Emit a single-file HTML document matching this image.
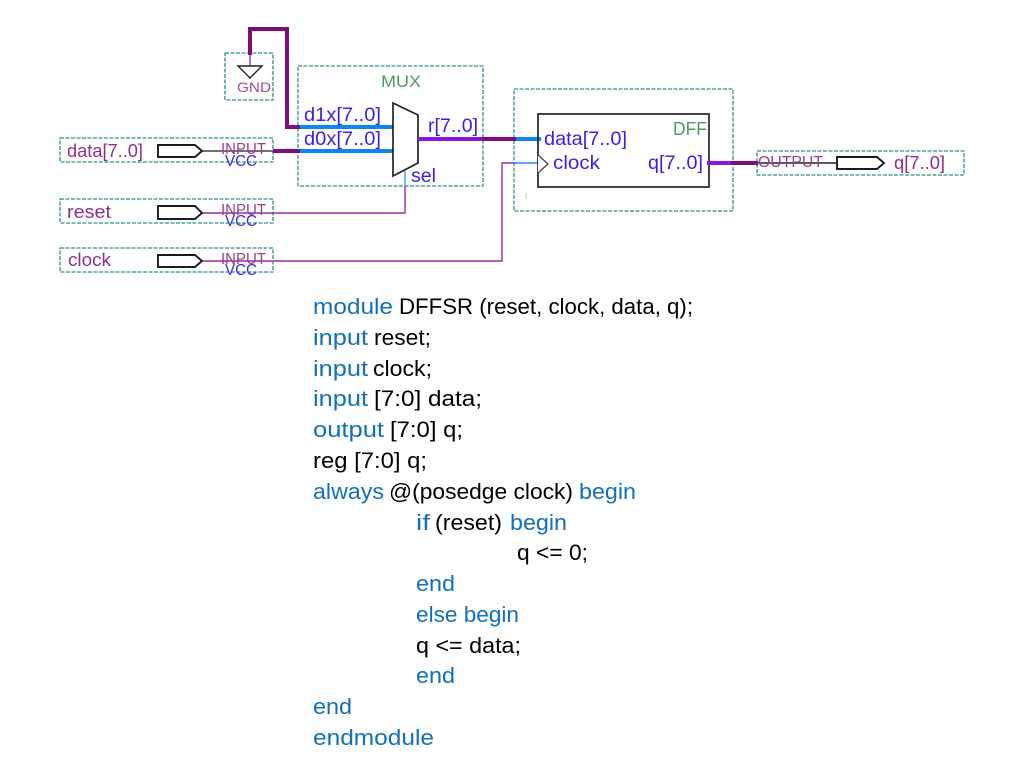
<!DOCTYPE html>
<html><head><meta charset="utf-8"><style>
html,body{margin:0;padding:0;background:#fff}
svg{display:block}
text{font-family:"Liberation Sans",sans-serif}
.c text{font-size:22px;fill:#000}
.c .k{fill:#1170b8}
.l{font-size:19px;fill:#3a22e0}
.p{font-size:18px;fill:#8f2f88}
.box{fill:none;stroke:#2f8f8f;stroke-width:1.3;stroke-dasharray:4 1.5}
</style></head><body>
<svg width="1024" height="768" viewBox="0 0 1024 768" xmlns="http://www.w3.org/2000/svg">
<defs><filter id="b" x="-5%" y="-5%" width="110%" height="110%"><feGaussianBlur stdDeviation="0.35"/></filter></defs>
<g filter="url(#b)">
<rect class="box" x="225" y="53" width="48" height="47"/>
<rect class="box" x="298" y="66" width="185" height="120"/>
<rect class="box" x="60" y="138" width="213" height="24"/>
<rect class="box" x="60" y="199" width="213" height="24"/>
<rect class="box" x="60" y="248" width="213" height="24"/>
<rect class="box" x="514" y="89" width="219" height="122"/>
<rect class="box" x="757" y="151" width="207" height="24"/>

<path d="M250 55V29H287V127H300" fill="none" stroke="#7d0a78" stroke-width="4"/>
<path d="M250 55V66" stroke="#9a3fd0" stroke-width="1.5"/>
<path d="M238 66H262L250 78Z" fill="#fff" stroke="#222" stroke-width="1.4"/>
<text x="237" y="92" textLength="34" lengthAdjust="spacingAndGlyphs" style="font-size:14px;fill:#a04a98">GND</text>

<path d="M300 127H394M300 151H394" stroke="#0f86ee" stroke-width="4"/>
<path d="M273 151H300" stroke="#7d0a78" stroke-width="4"/>
<path d="M393 103L418 115V163L393 176Z" fill="#fff" stroke="#222" stroke-width="1.7"/>
<path d="M418 139H482" stroke="#8a18d8" stroke-width="4"/>
<path d="M482 139H516" stroke="#7d0a78" stroke-width="4"/>
<path d="M516 139H541" stroke="#0f86ee" stroke-width="4"/>

<text x="381" y="87" textLength="40" lengthAdjust="spacingAndGlyphs" style="font-size:17px;fill:#4f9a55">MUX</text>
<text class="l" x="304" y="121" textLength="77" lengthAdjust="spacingAndGlyphs">d1x[7..0]</text>
<text class="l" x="304" y="145" textLength="77" lengthAdjust="spacingAndGlyphs">d0x[7..0]</text>
<text class="l" x="428" y="132" textLength="50" lengthAdjust="spacingAndGlyphs">r[7..0]</text>
<text class="l" x="411" y="182" textLength="25" lengthAdjust="spacingAndGlyphs">sel</text>

<path d="M405 171V186" stroke="#3f98ee" stroke-width="1.4" fill="none"/>
<path d="M405 186V213H202" stroke="#93338e" stroke-width="1.4" fill="none"/>
<path d="M514 163H502V261H202" stroke="#93338e" stroke-width="1.4" fill="none"/>
<path d="M514 163H538" stroke="#1f86ee" stroke-width="1.6"/>
<path d="M202 151H273" stroke="#444" stroke-width="1.4"/>

<g fill="#fff" stroke="#1a1a1a" stroke-width="1.9">
<path d="M158 145H195L202 151L195 157H158Z"/>
<path d="M158 206H195L202 213L195 219H158Z"/>
<path d="M158 255H195L202 261L195 267H158Z"/>
<path d="M837 157H877L884 163L877 169H837Z"/>
</g>

<text class="p" x="67" y="157" textLength="76" lengthAdjust="spacingAndGlyphs">data[7..0]</text>
<text class="p" x="67" y="218" textLength="44" lengthAdjust="spacingAndGlyphs">reset</text>
<text class="p" x="68" y="266" textLength="43" lengthAdjust="spacingAndGlyphs">clock</text>

<g style="font-size:16px">
<text x="221" y="154" textLength="45" lengthAdjust="spacingAndGlyphs" fill="#9a3d90">INPUT</text>
<text x="225" y="166" textLength="32" lengthAdjust="spacingAndGlyphs" fill="#3a2ce0">VCC</text>
<text x="221" y="215" textLength="45" lengthAdjust="spacingAndGlyphs" fill="#9a3d90">INPUT</text>
<text x="225" y="226" textLength="32" lengthAdjust="spacingAndGlyphs" fill="#3a2ce0">VCC</text>
<text x="221" y="264" textLength="45" lengthAdjust="spacingAndGlyphs" fill="#9a3d90">INPUT</text>
<text x="225" y="275" textLength="32" lengthAdjust="spacingAndGlyphs" fill="#3a2ce0">VCC</text>
</g>

<rect x="538" y="114" width="171" height="73" fill="none" stroke="#222" stroke-width="1.7"/>
<path d="M538 155L548 164L538 173" fill="#fff" stroke="#444" stroke-width="1.3"/>
<path d="M526 193V199" stroke="#f5c8b0" stroke-width="1.2"/>
<text x="673" y="135" textLength="34" lengthAdjust="spacingAndGlyphs" style="font-size:18px;fill:#4f9a55">DFF</text>
<text class="l" x="544" y="145" textLength="83" lengthAdjust="spacingAndGlyphs">data[7..0]</text>
<text class="l" x="553" y="169" textLength="47" lengthAdjust="spacingAndGlyphs">clock</text>
<text class="l" x="648" y="169" textLength="55" lengthAdjust="spacingAndGlyphs">q[7..0]</text>

<path d="M707 163H731" stroke="#8a18d8" stroke-width="4"/>
<path d="M731 163H758" stroke="#7d0a78" stroke-width="4"/>
<path d="M758 163H837" stroke="#222" stroke-width="1.4"/>
<text x="758" y="167" textLength="65" lengthAdjust="spacingAndGlyphs" style="font-size:16px;fill:#9a3d90">OUTPUT</text>
<text class="p" x="894" y="169" textLength="51" lengthAdjust="spacingAndGlyphs">q[7..0]</text>
</g>

<g class="c">
<text class="k" x="313" y="314" textLength="80" lengthAdjust="spacingAndGlyphs">module</text>
<text x="399" y="314" textLength="294" lengthAdjust="spacingAndGlyphs">DFFSR (reset, clock, data, q);</text>
<text class="k" x="313" y="345" textLength="55" lengthAdjust="spacingAndGlyphs">input</text>
<text x="374" y="345" textLength="57" lengthAdjust="spacingAndGlyphs">reset;</text>
<text class="k" x="313" y="376" textLength="55" lengthAdjust="spacingAndGlyphs">input</text>
<text x="373" y="376" textLength="59" lengthAdjust="spacingAndGlyphs">clock;</text>
<text class="k" x="313" y="406" textLength="55" lengthAdjust="spacingAndGlyphs">input</text>
<text x="374" y="406" textLength="108" lengthAdjust="spacingAndGlyphs">[7:0] data;</text>
<text class="k" x="313" y="437" textLength="71" lengthAdjust="spacingAndGlyphs">output</text>
<text x="390" y="437" textLength="73" lengthAdjust="spacingAndGlyphs">[7:0] q;</text>
<text x="313" y="468" textLength="114" lengthAdjust="spacingAndGlyphs">reg [7:0] q;</text>
<text class="k" x="313" y="499" textLength="71" lengthAdjust="spacingAndGlyphs">always</text>
<text x="389" y="499" textLength="184" lengthAdjust="spacingAndGlyphs">@(posedge clock)</text>
<text class="k" x="579" y="499" textLength="57" lengthAdjust="spacingAndGlyphs">begin</text>
<text class="k" x="416" y="530" textLength="14" lengthAdjust="spacingAndGlyphs">if</text>
<text x="435" y="530" textLength="67" lengthAdjust="spacingAndGlyphs">(reset)</text>
<text class="k" x="510" y="530" textLength="57" lengthAdjust="spacingAndGlyphs">begin</text>
<text x="517" y="560" textLength="71" lengthAdjust="spacingAndGlyphs">q &lt;= 0;</text>
<text class="k" x="416" y="591" textLength="39" lengthAdjust="spacingAndGlyphs">end</text>
<text class="k" x="416" y="622" textLength="103" lengthAdjust="spacingAndGlyphs">else begin</text>
<text x="416" y="653" textLength="105" lengthAdjust="spacingAndGlyphs">q &lt;= data;</text>
<text class="k" x="416" y="683" textLength="39" lengthAdjust="spacingAndGlyphs">end</text>
<text class="k" x="313" y="714" textLength="39" lengthAdjust="spacingAndGlyphs">end</text>
<text class="k" x="313" y="745" textLength="121" lengthAdjust="spacingAndGlyphs">endmodule</text>
</g>
</svg>
</body></html>
